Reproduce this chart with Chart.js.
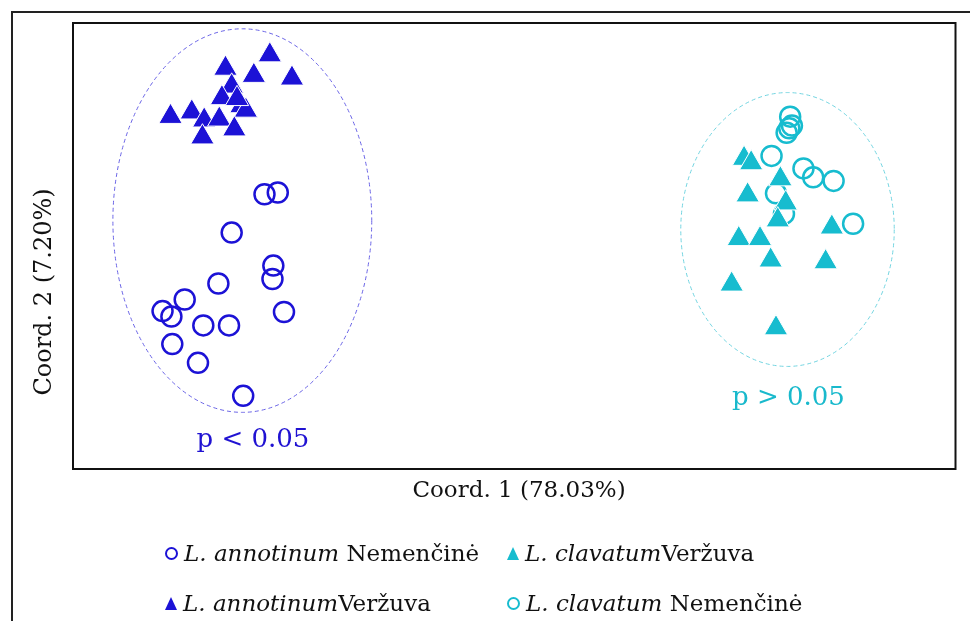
<!DOCTYPE html>
<html>
<head>
<meta charset="utf-8">
<script src="https://cdn.jsdelivr.net/npm/chart.js@4.4.0/dist/chart.umd.min.js"></script>
<style>
body{margin:0;background:#fff;}
#wrap{position:relative;width:970px;height:621px;}
.leg{position:absolute;font-family:"DejaVu Serif",serif;font-size:23px;color:#111;white-space:nowrap;line-height:26px;}
.leg i{font-style:italic;}
.mk-c{display:inline-block;width:9px;height:9px;border:2px solid;border-radius:50%;margin-right:6px;vertical-align:1px;}
.mk-t{display:inline-block;width:0;height:0;border-left:6px solid transparent;border-right:6px solid transparent;border-bottom:13px solid;margin-right:6px;vertical-align:1px;}
</style>
</head>
<body>
<div id="wrap">
<canvas id="pcoa" width="970" height="621"></canvas>
<div class="leg" style="left:165px;top:540px;"><span class="mk-c" style="border-color:#1c12d6"></span><i>L. annotinum</i> Nemenčinė</div>
<div class="leg" style="left:507px;top:540px;"><span class="mk-t" style="border-bottom-color:#17bccf"></span><i>L. clavatum</i>Veržuva</div>
<div class="leg" style="left:165px;top:590px;"><span class="mk-t" style="border-bottom-color:#1c12d6"></span><i>L. annotinum</i>Veržuva</div>
<div class="leg" style="left:507px;top:590px;"><span class="mk-c" style="border-color:#17bccf"></span><i>L. clavatum</i> Nemenčinė</div>
</div>

<script>

// PCoA coordinates

const annVerX=[-0.278,-0.253,-0.296,-0.328,-0.321,-0.332,-0.310,-0.305,-0.390,-0.366,-0.352,-0.335,-0.318,-0.354,-0.315];
const annVerY=[0.214,0.188,0.191,0.199,0.179,0.166,0.157,0.152,0.145,0.150,0.141,0.142,0.131,0.122,0.165];

const annNemX=[-0.284,-0.269,-0.321,-0.274,-0.275,-0.336,-0.374,-0.399,-0.389,-0.353,-0.324,-0.262,-0.388,-0.359,-0.308];
const annNemY=[0.058,0.060,0.015,-0.022,-0.037,-0.042,-0.060,-0.073,-0.079,-0.089,-0.089,-0.074,-0.110,-0.131,-0.168];

const claVerX=[0.257,0.265,0.298,0.261,0.304,0.295,0.251,0.275,0.356,0.287,0.349,0.243,0.293];
const claVerY=[0.098,0.093,0.075,0.057,0.048,0.029,0.008,0.008,0.021,-0.016,-0.018,-0.043,-0.092];

const claNemX=[0.309,0.308,0.305,0.311,0.288,0.324,0.335,0.358,0.293,0.302,0.380];
const claNemY=[0.145,0.132,0.127,0.135,0.101,0.087,0.077,0.073,0.059,0.036,0.025];

// group ellipses: centre x, centre y, radius x, radius y
const groupEllipses=[
{cx:-0.3090,cy:0.0285,rx:0.1460,ry:0.2150,color:'#6a64e6'},
{cx:0.3060,cy:0.0185,rx:0.1204,ry:0.1535,color:'#72d4e0'}
];

const groupLabels=[
{text:'p < 0.05',x:-0.297,y:-0.218,color:'#2012d2'},
{text:'p > 0.05',x:0.307,y:-0.171,color:'#19b9cc'}
];

const BLUE='#1c12d6';
const CYAN='#17bccf';

function pts(xs,ys){
return xs.map((x,i)=>({x:x,y:ys[i]}));
}

const framePlugin={
id:'frame',
beforeDatasetsDraw(chart){
const ctx=chart.ctx;
const xs=chart.scales.x, ys=chart.scales.y;
ctx.save();
ctx.lineWidth=1;
ctx.setLineDash([4,3]);
groupEllipses.forEach(e=>{
const cx=xs.getPixelForValue(e.cx), cy=ys.getPixelForValue(e.cy);
const rx=Math.abs(xs.getPixelForValue(e.cx+e.rx)-cx);
const ry=Math.abs(ys.getPixelForValue(e.cy+e.ry)-cy);
ctx.strokeStyle=e.color;
ctx.beginPath();
ctx.ellipse(cx,cy,rx,ry,0,0,Math.PI*2);
ctx.stroke();
});
ctx.restore();
},
afterDraw(chart){
const ctx=chart.ctx;
const a=chart.chartArea;
const xs=chart.scales.x, ys=chart.scales.y;
ctx.save();
// outer figure frame
ctx.strokeStyle='#222';
ctx.lineWidth=2;
ctx.beginPath();
ctx.moveTo(12,chart.height);
ctx.lineTo(12,12);
ctx.lineTo(chart.width,12);
ctx.stroke();
// plot box
ctx.strokeStyle='#111';
ctx.strokeRect(a.left,a.top,a.right-a.left,a.bottom-a.top);
// group p labels
ctx.font='26px "DejaVu Serif", serif';
ctx.textAlign='center';
ctx.textBaseline='middle';
groupLabels.forEach(l=>{
ctx.fillStyle=l.color;
ctx.fillText(l.text,xs.getPixelForValue(l.x),ys.getPixelForValue(l.y));
});
// axis titles
ctx.fillStyle='#111';
ctx.font='23px "DejaVu Serif", serif';
ctx.fillText('Coord. 1 (78.03%)',519,a.bottom+22);
ctx.font='24px "DejaVu Serif", serif';
ctx.translate(45,292);
ctx.rotate(-Math.PI/2);
ctx.fillText('Coord. 2 (7.20%)',0,0);
ctx.restore();
}
};

new Chart(document.getElementById('pcoa'),{
type:'scatter',
data:{
datasets:[
{label:'L. annotinum Veržuva',data:pts(annVerX,annVerY),pointStyle:'triangle',pointRadius:13.5,backgroundColor:BLUE,borderColor:'#fff',borderWidth:1},
{label:'L. clavatum Veržuva',data:pts(claVerX,claVerY),pointStyle:'triangle',pointRadius:13.5,backgroundColor:CYAN,borderColor:'#fff',borderWidth:1},
{label:'L. annotinum Nemenčinė',data:pts(annNemX,annNemY),pointStyle:'circle',pointRadius:10,backgroundColor:'rgba(0,0,0,0)',borderColor:BLUE,borderWidth:2.5},
{label:'L. clavatum Nemenčinė',data:pts(claNemX,claNemY),pointStyle:'circle',pointRadius:10,backgroundColor:'rgba(0,0,0,0)',borderColor:CYAN,borderWidth:2.5}
]
},
options:{
responsive:false,
animation:false,
layout:{padding:{left:73,top:23,right:12,bottom:152}},
plugins:{legend:{display:false},tooltip:{enabled:false}},
scales:{
x:{type:'linear',min:-0.5,max:0.4955,display:false},
y:{type:'linear',min:-0.25,max:0.25,display:false}
}
},
plugins:[framePlugin]
});

</script>
</body>
</html>
